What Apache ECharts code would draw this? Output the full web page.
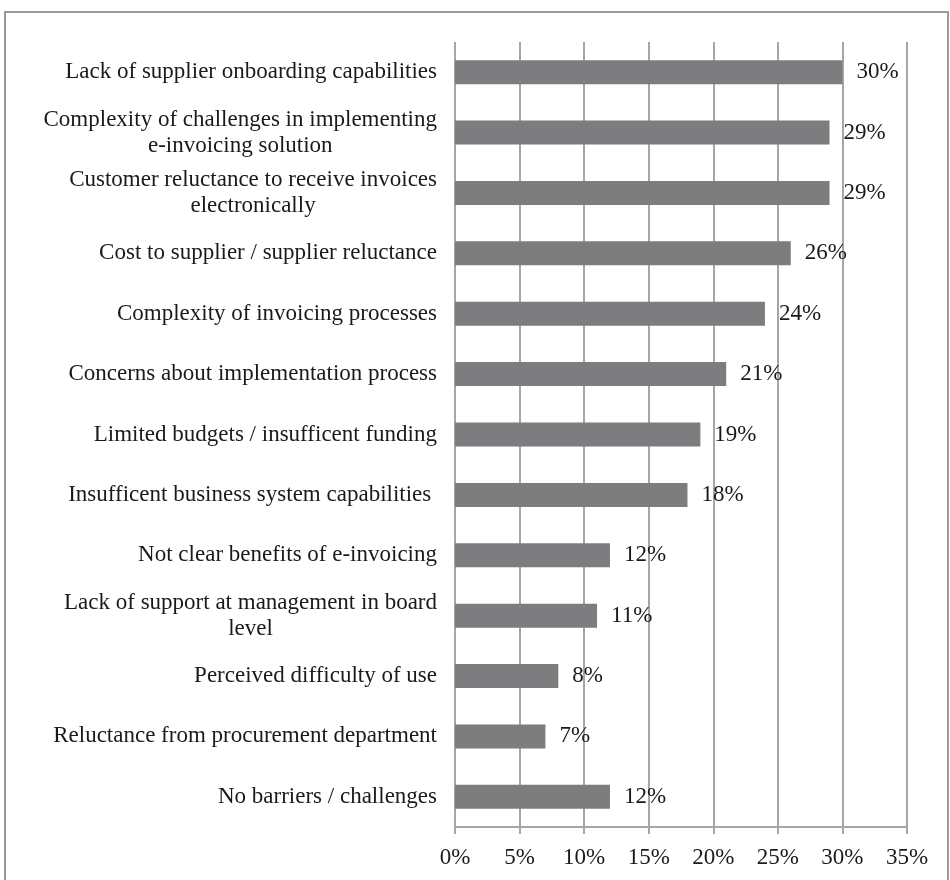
<!DOCTYPE html>
<html>
<head>
<meta charset="utf-8">
<script src="https://cdn.jsdelivr.net/npm/echarts@6/dist/echarts.min.js"></script>
<style>
  html, body { margin: 0; padding: 0; background: #fff; }
  #chart { width: 950px; height: 880px; }
</style>
</head>
<body>
<div id="chart"></div>
<script>
// barriers to e-invoicing, share of respondents (%)
const categories = [
  "Lack of supplier onboarding capabilities",
  "Complexity of challenges in implementing\ne-invoicing solution",
  "Customer reluctance to receive invoices\nelectronically",
  "Cost to supplier / supplier reluctance",
  "Complexity of invoicing processes",
  "Concerns about implementation process",
  "Limited budgets / insufficent funding",
  "Insufficent business system capabilities ",
  "Not clear benefits of e-invoicing",
  "Lack of support at management in board\nlevel",
  "Perceived difficulty of use",
  "Reluctance from procurement department",
  "No barriers / challenges",
];
const values = [30, 29, 29, 26, 24, 21, 19, 18, 12, 11, 8, 7, 12];
const tickLabels = ["0%", "5%", "10%", "15%", "20%", "25%", "30%", "35%"];

const font = "'Liberation Serif', 'Times New Roman', serif";
const chart = echarts.init(document.getElementById("chart"));

chart.setOption({
  animation: false,
  graphic: [
    {
      type: "rect",
      shape: { x: 5, y: 12, width: 943, height: 900 },
      style: { fill: "none", stroke: "#9a9a9a", lineWidth: 2 },
    },
  ],
  grid: { left: 455, right: 43, top: 42, bottom: 53 },
  xAxis: {
    type: "value",
    min: 0,
    max: 35,
    interval: 5,
    axisLine: { show: true, lineStyle: { color: "#a6a6a6", width: 2 } },
    axisTick: { show: true, length: 7, lineStyle: { color: "#a6a6a6", width: 2 } },
    splitLine: { show: true, lineStyle: { color: "#a6a6a6", width: 2 } },
    axisLabel: {
      margin: 19,
      color: "#1a1a1a",
      fontFamily: font,
      fontSize: 23,
      formatter: (v) => tickLabels[v / 5],
    },
  },
  yAxis: {
    type: "category",
    inverse: true,
    data: categories,
    axisLine: { show: false },
    axisTick: { show: false },
    axisLabel: {
      margin: 18,
      color: "#1a1a1a",
      fontFamily: font,
      fontSize: 23,
      lineHeight: 26,
      formatter: (v) => v.split("\n").map((s) => "{c|" + s + "}").join("\n"),
      rich: {
        c: { align: "center", fontFamily: font, fontSize: 23, lineHeight: 26, color: "#1a1a1a" },
      },
    },
  },
  series: [
    {
      type: "bar",
      data: values,
      barWidth: 24,
      itemStyle: { color: "#7d7d80" },
      label: {
        show: true,
        position: "right",
        distance: 14,
        color: "#1a1a1a",
        fontFamily: font,
        fontSize: 23,
        formatter: (p) => p.value + "%",
      },
    },
  ],
});
window.addEventListener("resize", () => chart.resize());
</script>
</body>
</html>
